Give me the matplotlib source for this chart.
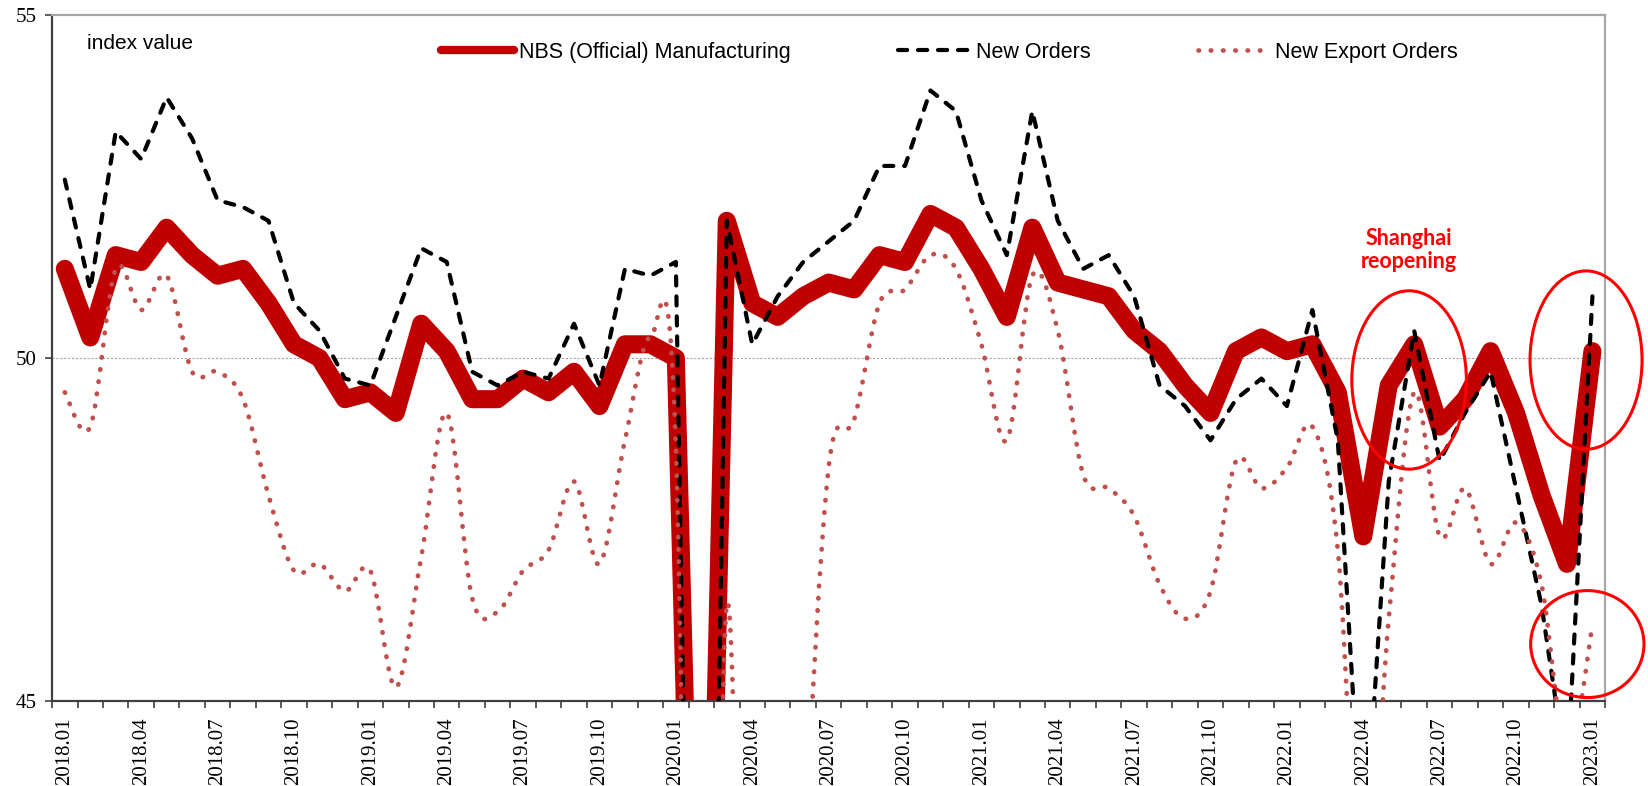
import matplotlib.pyplot as plt
import numpy as np
from matplotlib.lines import Line2D
from matplotlib.patches import Ellipse, PathPatch
from matplotlib.path import Path


MONTHS = [f"{year}.{month:02d}" for year in range(2018, 2024) for month in range(1, 13)][:61]

# NBS official manufacturing PMI
PMI = [
    51.3, 50.3, 51.5, 51.4, 51.9, 51.5, 51.2, 51.3, 50.8, 50.2, 50.0, 49.4,
    49.5, 49.2, 50.5, 50.1, 49.4, 49.4, 49.7, 49.5, 49.8, 49.3, 50.2, 50.2,
    50.0, 35.7, 52.0, 50.8, 50.6, 50.9, 51.1, 51.0, 51.5, 51.4, 52.1, 51.9,
    51.3, 50.6, 51.9, 51.1, 51.0, 50.9, 50.4, 50.1, 49.6, 49.2, 50.1, 50.3,
    50.1, 50.2, 49.5, 47.4, 49.6, 50.2, 49.0, 49.4, 50.1, 49.2, 48.0, 47.0,
    50.1,
]

NEW_ORDERS = [
    52.6, 51.0, 53.3, 52.9, 53.8, 53.2, 52.3, 52.2, 52.0, 50.8, 50.4, 49.7,
    49.6, 50.6, 51.6, 51.4, 49.8, 49.6, 49.8, 49.7, 50.5, 49.6, 51.3, 51.2,
    51.4, 29.3, 52.0, 50.2, 50.9, 51.4, 51.7, 52.0, 52.8, 52.8, 53.9, 53.6,
    52.3, 51.5, 53.6, 52.0, 51.3, 51.5, 50.9, 49.6, 49.3, 48.8, 49.4, 49.7,
    49.3, 50.7, 48.8, 42.6, 48.2, 50.4, 48.5, 49.2, 49.8, 48.1, 46.4, 43.9,
    50.9,
]

EXPORT_ORDERS = [
    49.5, 49.0, 51.3, 50.7, 51.2, 49.8, 49.8, 49.4, 48.0, 46.9, 47.0, 46.6,
    46.9, 45.2, 47.1, 49.2, 46.5, 46.3, 46.9, 47.2, 48.2, 47.0, 48.8, 50.3,
    48.7, 28.7, 46.4, 33.5, 35.3, 42.6, 48.4, 49.1, 50.8, 51.0, 51.5, 51.3,
    50.2, 48.8, 51.2, 50.4, 48.3, 48.1, 47.7, 46.7, 46.2, 46.6, 48.5, 48.1,
    48.4, 49.0, 47.2, 41.6, 46.2, 49.5, 47.4, 48.1, 47.0, 47.6, 46.7, 44.2,
    46.1,
]

RED = "#C00000"
EXPORT_RED = "#C0504D"
SANS = "Liberation Sans"
SERIF = "Liberation Serif"
DOTS = (0, (0.1, 2.5))
DASHES = (0, (2.2, 2.6))


def smooth_path(x, y):
    # bezier path through the points, like excel's "smoothed line"
    n = len(x)
    verts = [(x[0], y[0])]
    codes = [Path.MOVETO]
    for i in range(n - 1):
        xa, ya = (x[i - 1], y[i - 1]) if i > 0 else (x[i], y[i])
        xb, yb = (x[i + 2], y[i + 2]) if i + 2 < n else (x[i + 1], y[i + 1])
        c1 = (x[i] + (x[i + 1] - xa) / 6, y[i] + (y[i + 1] - ya) / 6)
        c2 = (x[i + 1] - (xb - x[i]) / 6, y[i + 1] - (yb - y[i]) / 6)
        verts += [c1, c2, (x[i + 1], y[i + 1])]
        codes += [Path.CURVE4] * 3
    return Path(verts, codes)


def main() -> None:
    fig = plt.figure(figsize=(16.48, 7.86), dpi=100)
    ax = fig.add_axes([0.0316, 0.1081, 0.9424, 0.8728])
    x = np.arange(len(MONTHS))

    ax.axhline(50, color="#A6A6A6", lw=0.8, ls=(0, (2, 1.5)), zorder=0)

    ax.plot(x, PMI, color=RED, lw=13, solid_joinstyle="round", solid_capstyle="round", zorder=2)
    ax.plot(x, NEW_ORDERS, color="black", lw=3, ls=DASHES, dash_capstyle="round", zorder=3)
    dotted = PathPatch(smooth_path(x, EXPORT_ORDERS), fill=False, edgecolor=EXPORT_RED, lw=3.4,
                       ls=DOTS, capstyle="round", joinstyle="round", zorder=4)
    ax.add_patch(dotted)

    ax.set_xlim(-0.5, len(MONTHS) - 0.5)
    ax.set_ylim(45, 55)
    ax.set_yticks([45, 50, 55])
    ax.set_xticks(np.arange(-0.5, len(MONTHS), 1), minor=True)
    ax.set_xticks(x[::3])
    ax.set_xticklabels(MONTHS[::3], rotation=90, fontfamily=SERIF, fontsize=15)
    ax.set_yticklabels(["45", "50", "55"], fontfamily=SERIF, fontsize=15)
    ax.tick_params(axis="x", which="major", length=0, pad=11.5)
    ax.tick_params(axis="x", which="minor", length=5, width=1.2, color="#404040")
    ax.tick_params(axis="y", length=5, width=1.2, color="#404040", pad=6)

    for side in ("left", "bottom"):
        ax.spines[side].set_color("#404040")
        ax.spines[side].set_linewidth(1.6)
    for side in ("top", "right"):
        ax.spines[side].set_color("#A6A6A6")
        ax.spines[side].set_linewidth(1.6)

    ax.text(0.0225, 0.959, "index value", transform=ax.transAxes, fontfamily=SANS,
            fontsize=15, va="center", ha="left")

    handles = [
        Line2D([0], [0], color=RED, lw=6, solid_capstyle="round"),
        Line2D([0], [0], color="black", lw=3, ls=DASHES, dash_capstyle="round"),
        Line2D([0], [0], color=EXPORT_RED, lw=3.4, ls=DOTS, dash_capstyle="round"),
    ]
    ax.legend(handles, ["NBS (Official) Manufacturing", "New Orders", "New Export Orders"],
              loc="center", bbox_to_anchor=(0.578, 0.946), ncol=3, frameon=False,
              prop={"family": SANS, "size": 15.5}, handlelength=3.4, handletextpad=0.2,
              columnspacing=5.0)

    ax.text(52.8, 51.57, "Shanghai\nreopening", color="red", fontfamily="Lato",
            fontweight="bold", fontsize=15.5, ha="center", va="center", linespacing=1.1)

    for cx, cy, w, h in [(52.8, 49.68, 4.5, 2.6), (59.75, 49.97, 4.4, 2.6), (59.8, 45.83, 4.45, 1.56)]:
        ax.add_patch(Ellipse((cx, cy), w, h, fill=False, edgecolor="red", lw=2.2,
                             clip_on=False, zorder=5))

    fig.savefig("out.png", dpi=100)


if __name__ == "__main__":
    main()
